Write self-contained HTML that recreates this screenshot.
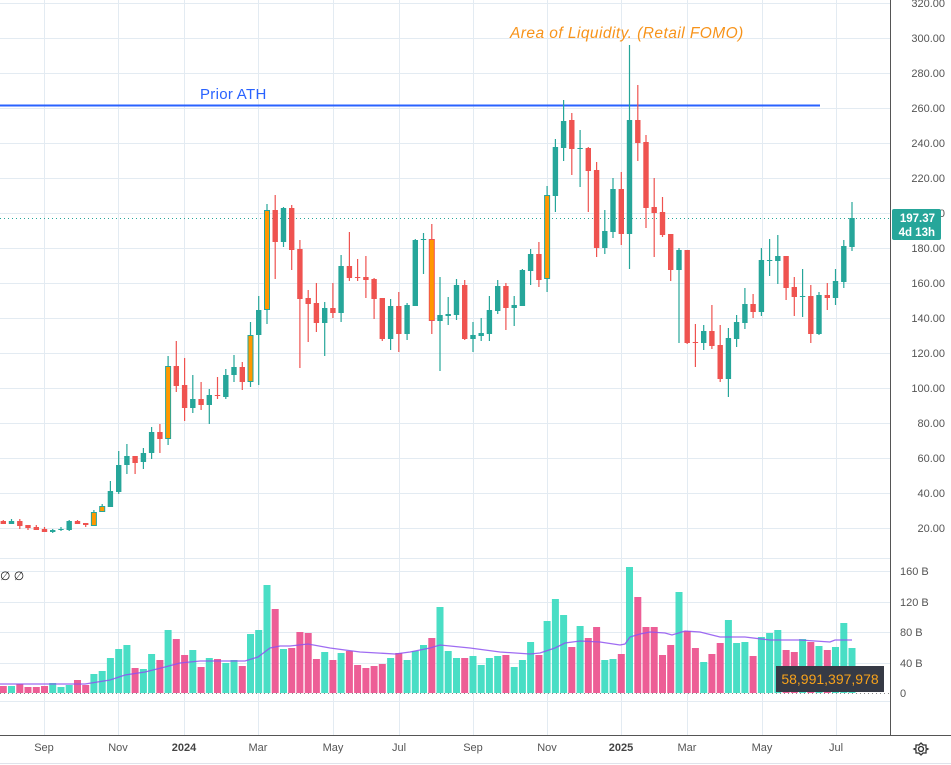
<!DOCTYPE html>
<html><head><meta charset="utf-8">
<style>
html,body{margin:0;padding:0;background:#fff;width:951px;height:765px;overflow:hidden;font-family:"Liberation Sans",sans-serif;}
svg{display:block}
</style></head>
<body>
<svg id="s" width="951" height="765" xmlns="http://www.w3.org/2000/svg" font-family="Liberation Sans, sans-serif">
<rect width="951" height="765" fill="#fff"/>
<g id="grid" stroke="#e3ebf2" stroke-width="1"></g>
<g id="vol"></g>
<polyline id="ma" fill="none" stroke="#8e52f0" stroke-width="1.3" stroke-opacity="0.85"/>
<line x1="0" y1="693.5" x2="890" y2="693.5" stroke="#888" stroke-dasharray="1,3"/>
<line x1="0" y1="218.5" x2="890" y2="218.5" stroke="#26a69a" stroke-dasharray="1,3"/>
<line x1="0" y1="105.5" x2="820" y2="105.5" stroke="#2962ff" stroke-width="2"/>
<g id="cand"></g>
<text x="200" y="99" font-size="15" fill="#2962ff" letter-spacing="0.3">Prior ATH</text>
<text x="510" y="38" font-size="15.5" font-style="italic" fill="#f7931a" letter-spacing="0.45">Area of Liquidity. (Retail FOMO)</text>
<text x="0" y="580" font-size="12" fill="#222">∅  ∅</text>
<line x1="890.5" y1="0" x2="890.5" y2="735" stroke="#555" stroke-width="1"/>
<line x1="0" y1="735.5" x2="951" y2="735.5" stroke="#555" stroke-width="1"/>
<line x1="0" y1="763.5" x2="951" y2="763.5" stroke="#e0e3eb" stroke-width="1"/>
<g id="axis" font-size="11" fill="#555"></g>
<rect x="892" y="209" width="49" height="31" rx="2" fill="#26a69a"/>
<text x="935" y="222" font-size="11.5" font-weight="bold" fill="#fff" text-anchor="end">197.37</text>
<text x="935" y="236" font-size="11.5" font-weight="bold" fill="#fff" text-anchor="end">4d 13h</text>
<rect x="776" y="666" width="108" height="26" fill="#363a45"/>
<text x="830" y="684" font-size="14" fill="#f7a21b" text-anchor="middle">58,991,397,978</text>
<g font-size="11" fill="#555" text-anchor="middle">
<text x="44" y="751">Sep</text><text x="118" y="751">Nov</text><text x="184" y="751" font-weight="bold" fill="#444">2024</text>
<text x="258" y="751">Mar</text><text x="333" y="751">May</text><text x="399" y="751">Jul</text>
<text x="473" y="751">Sep</text><text x="547" y="751">Nov</text><text x="621" y="751" font-weight="bold" fill="#444">2025</text>
<text x="687" y="751">Mar</text><text x="762" y="751">May</text><text x="836" y="751">Jul</text>
</g>
<g transform="translate(921,749)" fill="none" stroke="#333" stroke-width="1.3">
<circle r="2.5"/><path d="M0,-6 L2,-4 L5,-4 L5,-1 L7,0 L5,1 L5,4 L2,4 L0,6 L-2,4 L-5,4 L-5,1 L-7,0 L-5,-1 L-5,-4 L-2,-4 Z"/>
</g>
</svg>
<script>
var NS="http://www.w3.org/2000/svg";
function el(t,a,p){var e=document.createElementNS(NS,t);for(var k in a)e.setAttribute(k,a[k]);document.getElementById(p).appendChild(e);return e;}
var gx=[44,118,184,258,333,399,473,547,621,687,762,836];
gx.forEach(function(x){el('line',{x1:x+.5,y1:0,x2:x+.5,y2:735},'grid');});
for(var i=0;i<16;i++){var y=3+35*i;el('line',{x1:0,y1:y+.5,x2:890,y2:y+.5},'grid');
 var t=el('text',{x:945,y:y+4,'text-anchor':'end'},'axis');t.textContent=(320-20*i).toFixed(2);}
[571,602,632,663].forEach(function(y){el('line',{x1:0,y1:y+.5,x2:890,y2:y+.5},'grid');});
el('line',{x1:0,y1:701.5,x2:890,y2:701.5},'grid');
el('line',{x1:0,y1:558.5,x2:890,y2:558.5},'grid');
[["160 B",571],["120 B",602],["80 B",632],["40 B",663],["0",693]].forEach(function(a){var t=el('text',{x:900,y:a[1]+4},'axis');t.textContent=a[0];});
var C=[["r",521,524,520,524],["g",521,524,519,524],["r",521,526,519,529],["r",525,528,525,530],["r",527,530,525,530],["r",529,532,527,532],["g",530,532,529,533],["g",529,530,527,531],["g",521,530,520,531],["r",521,524,520,524],["r",523,525,523,527],["og",512,526,510,526],["og",506,512,504,512],["g",491,507,481,507],["g",465,492,451,494],["g",456,465,444,474],["r",456,463,456,474],["g",453,462,448,469],["g",432,453,427,459],["r",432,439,424,453],["og",366,439,356,445],["r",366,386,341,392],["r",385,408,358,421],["g",399,408,375,413],["r",399,405,382,410],["g",395,405,389,424],["r",395,396,377,399],["g",375,397,369,399],["g",367,375,355,382],["r",367,382,362,390],["og",335,382,322,387],["g",310,335,296,385],["og",210,310,204,324],["r",210,242,195,279],["g",208,242,207,247],["r",208,250,205,270],["r",249,299,240,368],["r",298,304,290,342],["r",303,323,283,332],["g",308,323,302,356],["r",308,313,283,318],["g",266,313,255,322],["r",266,278,232,281],["r",277,278,259,281],["r",277,280,256,298],["r",279,299,278,319],["r",298,339,298,341],["g",306,339,299,350],["r",306,334,292,352],["g",305,334,303,340],["g",240,306,239,306],["g",239,240,233,274],["or",239,321,224,334],["g",315,321,277,371],["g",314,316,297,325],["g",285,315,279,320],["r",285,339,280,340],["g",335,339,322,352],["g",333,336,318,341],["g",310,334,296,341],["g",286,311,280,314],["r",286,308,283,330],["g",305,308,296,326],["g",270,306,269,306],["g",254,271,249,285],["r",254,280,242,287],["og",195,279,186,292],["g",147,196,139,212],["g",121,148,100,161],["r",120,149,113,175],["g",148,149,130,187],["r",148,171,147,212],["r",170,248,162,257],["g",231,248,210,254],["g",189,232,178,238],["r",189,234,172,245],["g",120,234,45,269],["r",120,143,85,161],["r",142,208,135,228],["r",207,213,178,257],["r",212,235,197,237],["r",234,270,234,281],["g",250,270,248,343],["r",250,343,250,344],["r",342,343,324,367],["g",331,343,325,350],["r",331,346,305,349],["r",345,379,325,382],["g",338,379,328,397],["g",322,339,315,347],["g",304,323,288,329],["r",304,312,294,318],["g",260,312,248,316],["g",260,261,239,276],["g",256,261,235,284],["r",256,288,256,300],["r",287,297,277,316],["g",296,297,269,317],["r",296,334,285,343],["g",295,334,292,335],["r",295,298,283,310],["g",281,298,269,305],["g",246,282,240,288],["g",218,247,202,251]];
var V="r686 g686 r684 r687 r687 r686 g683 g687 g685 r680 r685 g674 g671 g658 g649 g645 r668 g669 g654 r660 g630 r639 r655 g650 r667 g658 r659 g663 g660 r666 g634 g630 g585 r609 g649 r648 r632 r633 r659 g652 r660 g653 r651 r665 r668 r666 r664 g658 r653 g660 g651 g645 r638 g607 g651 g658 r658 g656 g665 g658 g656 r655 g667 g660 g642 r655 g621 g599 g615 r647 g626 r638 r627 g660 g659 r654 g567 r597 r627 r627 r655 r645 g592 r631 r648 g662 r654 r643 g620 g643 g642 r656 g637 g633 g630 r650 r652 g639 r642 g646 r650 g647 g623 g648".split(" ");
var G="#26a69a",R="#ef5350";
function X(i){return 3.3+i*(852-3.3)/103;}
V.forEach(function(v,i){var y=+v.slice(1),x=X(i);el('rect',{x:(x-3.5).toFixed(1),y:y,width:7,height:693-y,fill:v[0]=="g"?"#3fdcc2":"#ec5590",'fill-opacity':0.95},'vol');});
C.forEach(function(c,i){var x=X(i),col=(c[0]=="g"||c[0]=="og")?G:R;
 el('line',{x1:x.toFixed(1),y1:c[3],x2:x.toFixed(1),y2:c[4],stroke:col,'stroke-width':1.2},'cand');
 var h=Math.max(1,c[2]-c[1]);
 if(c[0].length==2){el('rect',{x:(x-2.5).toFixed(1),y:c[1]+.5,width:5,height:h-1,fill:"#ff9800",stroke:col,'stroke-width':1},'cand');}
 else el('rect',{x:(x-2.7).toFixed(1),y:c[1],width:5.4,height:h,fill:col},'cand');});
var M=[[0,684],[85,684],[110,680],[125,675],[145,672],[165,667],[180,663],[200,661],[245,661],[258,657],[270,648],[280,646],[290,646],[308,644],[330,648],[360,652],[395,654],[410,652],[430,648],[440,645],[470,648],[500,652],[530,654],[540,653],[555,648],[565,643],[580,641],[600,642],[620,645],[625,644],[630,637],[640,634],[650,632],[665,633],[672,635],[685,631],[700,632],[720,637],[745,637],[770,640],[800,640],[830,642],[835,640],[852,640]];
document.getElementById('ma').setAttribute('points',M.map(function(p){return p.join(',');}).join(' '));
</script>
</body></html>
